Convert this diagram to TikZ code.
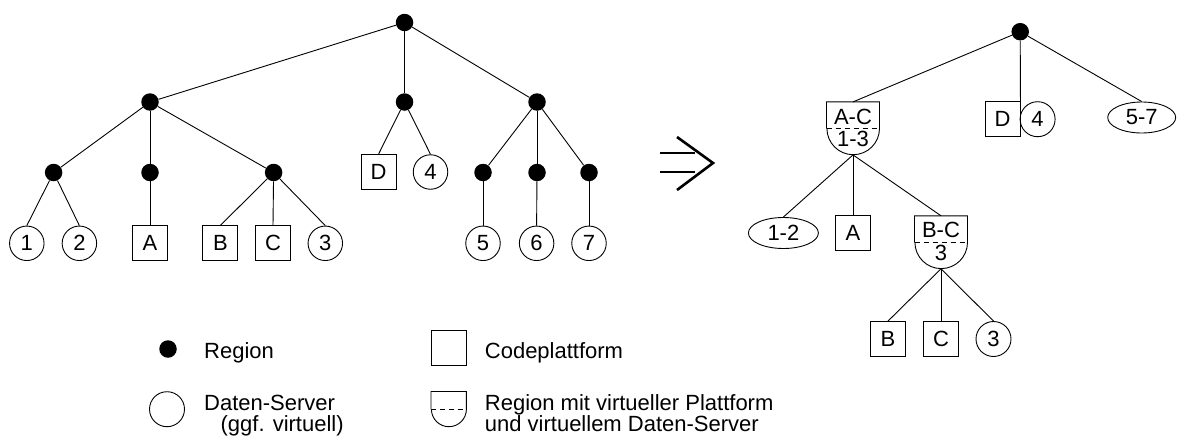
\documentclass[tikz,border=0pt]{standalone}
\usepackage{fontspec}
\setmainfont{Liberation Sans}
\usetikzlibrary{shapes.geometric}
\newcommand\lblfont{\fontsize{22}{24}\selectfont}
\tikzset{
  dotn/.style={circle, fill=black, inner sep=0pt, minimum size=17.5pt},
  srv/.style={circle, draw, line width=0.9pt, inner sep=0pt, minimum size=34.5pt, font=\lblfont},
  plat/.style={rectangle, draw, line width=0.9pt, inner sep=0pt, minimum size=35pt, font=\lblfont},
  vsrv/.style={ellipse, draw, line width=0.9pt, inner sep=0pt, minimum width=70pt, minimum height=31pt, font=\lblfont},
  shieldbox/.style={rectangle, inner sep=0pt, minimum width=52.6pt, minimum height=52.6pt},
  lshield/.style={rectangle, inner sep=0pt, minimum width=35pt, minimum height=35pt},
  edge/.style={line width=0.9pt},
  outl/.style={line width=0.9pt},
  dashl/.style={line width=0.9pt, dash pattern=on 5pt off 4pt},
  legtext/.style={anchor=base west, inner sep=0pt, font=\fontsize{22}{22}\selectfont},
  slabel/.style={inner sep=0pt, font=\lblfont},
  bigarrow/.style={line width=2.6pt}
}
\newcommand\shieldoutline[2]{%
  \draw[outl] (#1.west) -- (#1.north west) -- (#1.north east) -- (#1.east)
     arc[start angle=0, end angle=180, radius=#2];
  \draw[dashl] (#1.west) -- (#1.east);}
\begin{document}
\begin{tikzpicture}[x=1pt, y=-1pt]
\useasboundingbox (0,0) rectangle (1177,439);

% ---------------- left tree ----------------
\node[dotn] (L0) at (404.5,22.5) {};
\node[dotn] (L1a) at (150,102) {};
\node[dotn] (L1b) at (404.5,102) {};
\node[dotn] (L1c) at (537,102) {};
\node[dotn] (L2a) at (53.6,172.5) {};
\node[dotn] (L2b) at (150,172.5) {};
\node[dotn] (L2c) at (273.6,172.5) {};
\node[plat] (LD) at (378.6,172) {D};
\node[srv] (L4) at (430.5,172) {4};
\node[dotn] (L2d) at (483,172.5) {};
\node[dotn] (L2e) at (537,172.5) {};
\node[dotn] (L2f) at (589,172.5) {};
\node[srv] (L1) at (26.8,243.3) {1};
\node[srv] (L2) at (79.4,243.3) {2};
\node[plat] (LA) at (150,243.3) {A};
\node[plat] (LB) at (220.4,243.3) {B};
\node[plat] (LC) at (273,243.3) {C};
\node[srv] (L3) at (325.3,243.3) {3};
\node[srv] (L5) at (483,243.3) {5};
\node[srv] (L6) at (536.6,243.3) {6};
\node[srv] (L7) at (589,243.3) {7};

\draw[edge] (L0) -- (L1a);
\draw[edge] (L0) -- (L1b);
\draw[edge] (L0) -- (L1c);
\draw[edge] (L1a) -- (L2a);
\draw[edge] (L1a) -- (L2b);
\draw[edge] (L1a) -- (L2c);
\draw[edge] (L1b) -- (LD.north);
\draw[edge] (L1b) -- (L4.north);
\draw[edge] (L1c) -- (L2d);
\draw[edge] (L1c) -- (L2e);
\draw[edge] (L1c) -- (L2f);
\draw[edge] (L2a) -- (L1.north);
\draw[edge] (L2a) -- (L2.north);
\draw[edge] (L2b) -- (LA.north);
\draw[edge] (L2c) -- (LB.north);
\draw[edge] (L2c) -- (LC.north);
\draw[edge] (L2c) -- (L3.north);
\draw[edge] (L2d) -- (L5.north);
\draw[edge] (L2e) -- (L6.north);
\draw[edge] (L2f) -- (L7.north);

% ---------------- arrow ----------------
\draw[bigarrow] (660,153) -- (695,153);
\draw[bigarrow] (660,172) -- (695,172);
\draw[bigarrow] (677,137) -- (713,163) -- (677,190);

% ---------------- right tree ----------------
\node[dotn] (R0) at (1020.2,31.7) {};
\node[shieldbox] (RAC) at (853,128.4) {};
\shieldoutline{RAC}{26.3}
\node[slabel] (RACt) at ([yshift=11.7pt]RAC.center) {A-C};
\node[slabel] (RACb) at ([yshift=-11pt]RAC.center) {1-3};
\node[plat] (RD) at (1002.5,119.2) {D};
\node[srv, minimum size=35pt] (R4) at (1037.6,119.2) {4};
\node[vsrv, minimum width=68pt] (R57) at (1141.7,117.5) {5-7};
\node[vsrv] (R12) at (783.4,233) {1-2};
\node[plat] (RA) at (853,233) {A};
\node[shieldbox] (RBC) at (941,242.3) {};
\shieldoutline{RBC}{26.3}
\node[slabel] (RBCt) at ([yshift=12pt]RBC.center) {B-C};
\node[slabel] (RBCb) at ([yshift=-11pt]RBC.center) {3};
\node[plat] (RB) at (888,339) {B};
\node[plat] (RC) at (941,339) {C};
\node[srv, minimum size=35pt] (R3) at (993.5,339) {3};

\draw[edge] (R0) -- (RAC.north);
\draw[edge] (R0) -- (RD.north east);
\draw[edge] (R0) -- (R57.north);
\draw[edge] (RAC.south) -- (R12.north);
\draw[edge] (RAC.south) -- (RA.north);
\draw[edge] (RAC.south) -- (RBC.north);
\draw[edge] (RBC.south) -- (RB.north);
\draw[edge] (RBC.south) -- (RC.north);
\draw[edge] (RBC.south) -- (R3.north);

% ---------------- legend ----------------
\node[dotn] (Kdot) at (168,349) {};
\node[legtext] (KdotT) at (204,358.3) {Region};
\node[plat] (Kplat) at (448.7,348) {};
\node[legtext] (KplatT) at (484.7,358.3) {Codeplattform};
\node[srv, minimum size=35pt] (Ksrv) at (167,409.2) {};
\node[legtext] (KsrvT) at (204,410) {Daten-Server};
\node[legtext] (KsrvT2) at (220.4,431.7) {(ggf. virtuell)};
\node[lshield] (Kshield) at (448.7,409.2) {};
\shieldoutline{Kshield}{17.5}
\node[legtext] (KshT) at (484.7,410) {Region mit virtueller Plattform};
\node[legtext] (KshT2) at (484.7,431.7) {und virtuellem Daten-Server};
\end{tikzpicture}
\end{document}
